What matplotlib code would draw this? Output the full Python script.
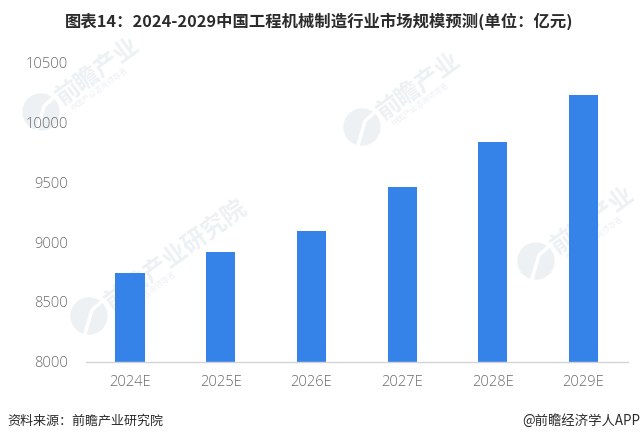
#!/usr/bin/env python3
"""China construction machinery market size forecast, 2024-2029."""

import matplotlib

matplotlib.use("Agg")
import matplotlib.pyplot as plt
from matplotlib.lines import Line2D
from matplotlib.patches import Circle
from matplotlib.transforms import IdentityTransform

plt.rcParams["font.family"] = ["Noto Sans CJK SC", "DejaVu Sans"]

WIDTH, HEIGHT = 641, 442
WATERMARK = "#eef1f4"

years = ["2024E", "2025E", "2026E", "2027E", "2028E", "2029E"]
market_size = [8740, 8917, 9092, 9458, 9833, 10225]
y_ticks = [8000, 8500, 9000, 9500, 10000, 10500]

title = "图表14：2024-2029中国工程机械制造行业市场规模预测(单位：亿元)"
source = "资料来源：前瞻产业研究院"
credit = "@前瞻经济学人APP"

# logo centre and visible text of each faint watermark, in image pixels
watermarks = [
    (41, 112, "前瞻产业"),
    (362, 127, "前瞻产业"),
    (89, 316, "前瞻产业研究院"),
    (536, 261, "前瞻产业"),
]
watermark_sub = "中国产业咨询领导者"


def px(x, y):
    return x / WIDTH, 1 - y / HEIGHT


fig = plt.figure(figsize=(WIDTH / 100, HEIGHT / 100), dpi=100, facecolor="white")
to_display = IdentityTransform()

for x, y, label in watermarks:
    fig.add_artist(
        Circle((x, HEIGHT - y), 18, transform=to_display, color=WATERMARK, zorder=-2)
    )
    # white cut through the logo disc
    fig.add_artist(
        Line2D(
            [x - 4, x + 3, x + 12],
            [HEIGHT - y - 18, HEIGHT - y + 6, HEIGHT - y + 14],
            transform=to_display,
            color="white",
            linewidth=2.5,
            zorder=-1,
        )
    )
    fig.text(
        *px(x + 18, y - 12),
        label,
        fontsize=17.5,
        fontweight="bold",
        color=WATERMARK,
        rotation=36,
        rotation_mode="anchor",
        ha="left",
        va="center",
        zorder=-1,
    )
    fig.text(
        *px(x + 30, y - 2),
        watermark_sub,
        fontsize=5.5,
        color=WATERMARK,
        rotation=36,
        rotation_mode="anchor",
        ha="left",
        va="center",
        zorder=-1,
    )

ax = fig.add_axes([86 / WIDTH, 1 - 362 / HEIGHT, 542 / WIDTH, 300 / HEIGHT])
ax.patch.set_alpha(0)
ax.bar(years, market_size, width=0.32, color="#3582e8", zorder=2)
ax.set_xlim(-0.485, 5.49)
ax.set_ylim(8000, 10500)
ax.set_yticks(y_ticks)

for side in ("top", "right", "left"):
    ax.spines[side].set_visible(False)
ax.spines["bottom"].set_color("#d4d4d4")
ax.spines["bottom"].set_linewidth(1.0)
ax.tick_params(axis="both", length=0, labelcolor="#6a6a6a", labelsize=10.5)
for label in ax.get_xticklabels() + ax.get_yticklabels():
    label.set_fontfamily(["Open Sans", "DejaVu Sans"])
    label.set_fontweight("light")
ax.tick_params(axis="x", pad=9)
ax.tick_params(axis="y", pad=13)

fig.text(*px(319, 21), title, fontsize=11.75, fontweight="bold", color="#2b2b2b", ha="center", va="center")
fig.text(*px(7, 421), source, fontsize=9.4, color="#2b2b2b", ha="left", va="center")
fig.text(*px(640, 421), credit, fontsize=9.6, color="#2b2b2b", ha="right", va="center")

fig.savefig("out.png", dpi=100)
